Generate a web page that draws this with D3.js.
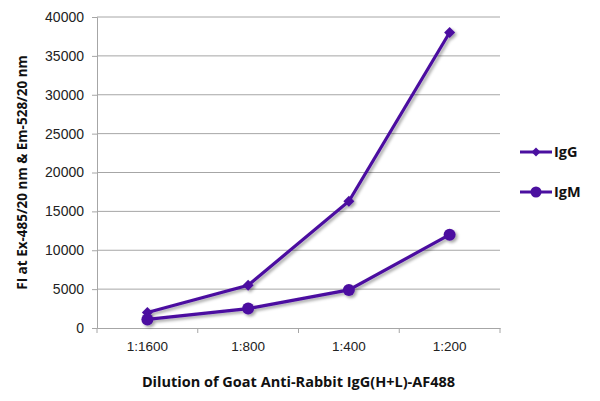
<!DOCTYPE html>
<html>
<head>
<meta charset="utf-8">
<script src="https://cdn.jsdelivr.net/npm/d3@7"></script>
<style>
  body { margin: 0; background: #fff; }
  svg { font-family: "Open Sans", "Noto Sans", sans-serif; }
</style>
</head>
<body>
<div id="chart"></div>
<script>
const categories = ["1:1600", "1:800", "1:400", "1:200"];
const igG = [2000, 5500, 16300, 38000];
const igM = [1100, 2500, 4900, 12000];
const yTicks = [0, 5000, 10000, 15000, 20000, 25000, 30000, 35000, 40000];

const color = "#4b10a0";
const width = 600, height = 401;
const margin = { top: 17, right: 100, bottom: 73, left: 97 };

const svg = d3.select("#chart").append("svg")
  .attr("width", width)
  .attr("height", height);

const defs = svg.append("defs");
const shadow = defs.append("filter").attr("id", "shadow")
  .attr("x", "-20%").attr("y", "-20%").attr("width", "140%").attr("height", "140%");
shadow.append("feDropShadow")
  .attr("dx", 2).attr("dy", 2).attr("stdDeviation", 1.5)
  .attr("flood-color", "#000").attr("flood-opacity", 0.35);

const x = d3.scaleBand()
  .domain(categories)
  .range([margin.left, width - margin.right]);

const y = d3.scaleLinear()
  .domain([0, 40000])
  .range([height - margin.bottom, margin.top]);

// gridlines
svg.append("g")
  .selectAll("line")
  .data(yTicks.slice(1))
  .join("line")
  .attr("x1", margin.left)
  .attr("x2", width - margin.right)
  .attr("y1", d => y(d))
  .attr("y2", d => y(d))
  .attr("stroke", "#a6a6a6")
  .attr("stroke-width", 1);

// y axis
const yAxis = svg.append("g")
  .attr("transform", `translate(${margin.left},0)`)
  .call(d3.axisLeft(y).tickValues(yTicks).tickSize(5).tickPadding(8).tickFormat(d3.format("d")));
yAxis.select(".domain").attr("stroke", "#a6a6a6");
yAxis.selectAll(".tick line").attr("stroke", "#a6a6a6");
yAxis.selectAll("text").attr("font-size", 14).attr("fill", "#222");

// x axis
const xAxis = svg.append("g")
  .attr("transform", `translate(0,${height - margin.bottom})`)
  .call(d3.axisBottom(x).tickSize(0).tickPadding(13));
xAxis.select(".domain").attr("stroke", "#a6a6a6");
xAxis.selectAll("text").attr("font-size", 13.5).attr("fill", "#222");
xAxis.selectAll(".sep")
  .data(categories.concat([null]))
  .join("line")
  .attr("class", "sep")
  .attr("x1", (d, i) => margin.left + i * x.bandwidth())
  .attr("x2", (d, i) => margin.left + i * x.bandwidth())
  .attr("y1", 0)
  .attr("y2", 5)
  .attr("stroke", "#a6a6a6");

// axis titles
svg.append("text")
  .attr("x", (margin.left + width - margin.right) / 2)
  .attr("y", 387)
  .attr("text-anchor", "middle")
  .attr("font-size", 14.5)
  .attr("font-weight", "bold")
  .attr("fill", "#111")
  .text("Dilution of Goat Anti-Rabbit IgG(H+L)-AF488");

svg.append("text")
  .attr("transform", `translate(27,${(margin.top + height - margin.bottom) / 2}) rotate(-90)`)
  .attr("text-anchor", "middle")
  .attr("font-size", 13.5)
  .attr("font-weight", "bold")
  .attr("fill", "#111")
  .text("FI at Ex-485/20 nm & Em-528/20 nm");

const cx = d => x(d) + x.bandwidth() / 2;
const line = d3.line()
  .x((d, i) => cx(categories[i]))
  .y(d => y(d));

const series = [
  { name: "IgG", values: igG, marker: "diamond" },
  { name: "IgM", values: igM, marker: "circle" }
];

const diamond = d3.symbol().type(d3.symbolSquare).size(60);

series.forEach(s => {
  const g = svg.append("g").attr("filter", "url(#shadow)");
  g.append("path")
    .datum(s.values)
    .attr("d", line)
    .attr("fill", "none")
    .attr("stroke", color)
    .attr("stroke-width", 3.2);
  if (s.marker === "circle") {
    g.selectAll("circle")
      .data(s.values)
      .join("circle")
      .attr("cx", (d, i) => cx(categories[i]))
      .attr("cy", d => y(d))
      .attr("r", 6)
      .attr("fill", color);
  } else {
    g.selectAll("path.m")
      .data(s.values)
      .join("path")
      .attr("class", "m")
      .attr("d", diamond)
      .attr("transform", (d, i) => `translate(${cx(categories[i])},${y(d)}) rotate(45)`)
      .attr("fill", color);
  }
});

// legend
const legend = svg.append("g");
series.forEach((s, i) => {
  const ly = 152 + i * 40;
  legend.append("line")
    .attr("x1", 520).attr("x2", 552)
    .attr("y1", ly).attr("y2", ly)
    .attr("stroke", color).attr("stroke-width", 3);
  if (s.marker === "circle") {
    legend.append("circle").attr("cx", 536).attr("cy", ly).attr("r", 5.5).attr("fill", color);
  } else {
    legend.append("path").attr("d", d3.symbol().type(d3.symbolSquare).size(40))
      .attr("transform", `translate(536,${ly}) rotate(45)`).attr("fill", color);
  }
  legend.append("text")
    .attr("x", 554).attr("y", ly)
    .attr("dy", "0.35em")
    .attr("font-size", 14.5)
    .attr("font-weight", "bold")
    .attr("fill", "#111")
    .text(s.name);
});
</script>
</body>
</html>
